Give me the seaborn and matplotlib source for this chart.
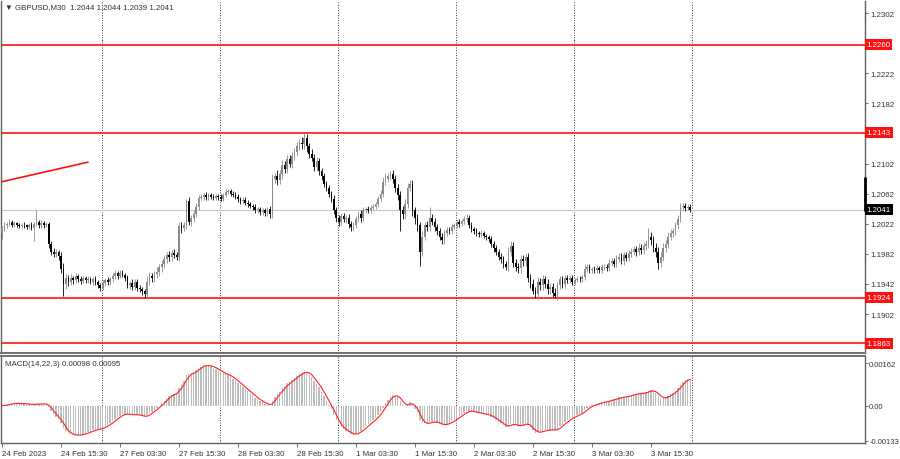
import numpy as np
import pandas as pd
import matplotlib
matplotlib.use("Agg")
import matplotlib.pyplot as plt
import matplotlib.transforms as mtrans
import seaborn as sns

# ---------------- data ----------------
symbol_title = "\u25BC GBPUSD,M30  1.2044 1.2044 1.2039 1.2041"
macd_title = "MACD(14,22,3) 0.00098 0.00095"
macd_params = (14, 22, 3)

first_open = 1.2010
closes = [
    1.2016, 1.2020, 1.2022, 1.2025, 1.2021, 1.2023, 1.2020, 1.2019, 1.2021, 1.2020,
    1.2018, 1.2020, 1.2017, 1.2022, 1.2024, 1.2020, 1.2023, 1.2021, 1.2022, 1.1995,
    1.1985, 1.1982, 1.1984, 1.1979, 1.1962, 1.1942, 1.1950, 1.1945, 1.1950, 1.1947,
    1.1952, 1.1948, 1.1946, 1.1950, 1.1947, 1.1948, 1.1945, 1.1948, 1.1944, 1.1940,
    1.1937, 1.1943, 1.1947, 1.1944, 1.1948, 1.1952, 1.1956, 1.1953, 1.1957, 1.1954,
    1.1950, 1.1940, 1.1943, 1.1938, 1.1945, 1.1937, 1.1935, 1.1932, 1.1928, 1.1945,
    1.1952, 1.1950, 1.1955, 1.1958, 1.1964, 1.1968, 1.1975, 1.1980, 1.1978, 1.1983,
    1.1980, 1.1978, 1.2019, 1.2016, 1.2020, 1.2052, 1.2025, 1.2030, 1.2035, 1.2045,
    1.2056, 1.2058, 1.2060, 1.2057, 1.2060, 1.2058, 1.2056, 1.2059, 1.2057, 1.2055,
    1.2060, 1.2064, 1.2065, 1.2062, 1.2060, 1.2058, 1.2055, 1.2052, 1.2054, 1.2050,
    1.2048, 1.2046, 1.2044, 1.2040, 1.2042, 1.2038, 1.2040, 1.2036, 1.2042, 1.2035,
    1.2082, 1.2085, 1.2080, 1.2088, 1.2100, 1.2095, 1.2108, 1.2102, 1.2112, 1.2118,
    1.2125, 1.2130, 1.2128, 1.2136, 1.2125, 1.2115, 1.2110, 1.2098, 1.2105, 1.2092,
    1.2085, 1.2075, 1.2070, 1.2062, 1.2055, 1.2040, 1.2030, 1.2025, 1.2032, 1.2028,
    1.2030, 1.2022, 1.2018, 1.2020, 1.2028, 1.2035, 1.2030, 1.2040, 1.2042, 1.2040,
    1.2043, 1.2045, 1.2048, 1.2055, 1.2062, 1.2078, 1.2082, 1.2085, 1.2088, 1.2082,
    1.2070, 1.2060, 1.2040, 1.2035, 1.2048, 1.2070, 1.2075, 1.2040, 1.2030, 1.2020,
    1.1985, 1.2005, 1.2020, 1.2018, 1.2030, 1.2025, 1.2018, 1.2012, 1.2005, 1.2000,
    1.2010, 1.2014, 1.2012, 1.2018, 1.2020, 1.2024, 1.2022, 1.2026, 1.2028, 1.2030,
    1.2020, 1.2015, 1.2013, 1.2010, 1.2008, 1.2010, 1.2006, 1.2004, 1.2002, 1.1995,
    1.1990, 1.1985, 1.1978, 1.1975, 1.1968, 1.1965, 1.1985, 1.1992, 1.1970, 1.1965,
    1.1963, 1.1975, 1.1972, 1.1978, 1.1950, 1.1942, 1.1932, 1.1928, 1.1945, 1.1940,
    1.1948, 1.1942, 1.1935, 1.1938, 1.1930, 1.1926, 1.1940, 1.1948, 1.1942, 1.1950,
    1.1947, 1.1950, 1.1945, 1.1947, 1.1949, 1.1948, 1.1951, 1.1962, 1.1965, 1.1960,
    1.1962, 1.1960, 1.1963, 1.1961, 1.1964, 1.1965, 1.1963, 1.1970, 1.1972, 1.1968,
    1.1975, 1.1978, 1.1972, 1.1980, 1.1976, 1.1982, 1.1985, 1.1988, 1.1984, 1.1990,
    1.1987, 1.1992, 1.1995, 1.2005, 1.2000, 1.1990, 1.1985, 1.1970, 1.1978, 1.1990,
    1.1995, 1.2005, 1.2010, 1.2012, 1.2020, 1.2028, 1.2045, 1.2046, 1.2043, 1.2045,
    1.2041,
]

# wick lengths above / below the candle body, in pips
upper_wick_pips = [
    3, 4, 3, 4, 2, 3, 2, 3, 2, 3,
    2, 3, 4, 3, 17, 3, 4, 3, 3, 3,
    4, 5, 4, 3, 6, 8, 5, 4, 5, 3,
    4, 3, 4, 3, 3, 4, 3, 3, 4, 3,
    3, 4, 3, 4, 3, 5, 4, 3, 4, 3,
    3, 4, 3, 5, 3, 3, 4, 3, 3, 8,
    6, 5, 4, 6, 5, 6, 4, 5, 6, 4,
    5, 4, 6, 5, 4, 3, 5, 4, 6, 5,
    4, 3, 3, 4, 3, 3, 4, 3, 3, 4,
    3, 4, 3, 3, 3, 4, 3, 3, 3, 3,
    3, 3, 3, 4, 3, 3, 3, 3, 3, 4,
    6, 5, 8, 6, 7, 6, 6, 5, 6, 5,
    6, 5, 7, 7, 6, 5, 6, 5, 6, 5,
    4, 4, 4, 4, 4, 5, 4, 4, 4, 4,
    4, 5, 4, 4, 4, 4, 5, 4, 3, 4,
    4, 4, 3, 4, 5, 6, 7, 5, 4, 6,
    5, 5, 5, 6, 7, 6, 5, 5, 5, 5,
    5, 8, 5, 6, 14, 5, 5, 4, 5, 5,
    4, 4, 4, 4, 3, 4, 4, 3, 4, 5,
    4, 4, 3, 3, 3, 4, 3, 3, 3, 4,
    4, 4, 4, 5, 4, 5, 6, 7, 6, 5,
    5, 6, 5, 5, 5, 5, 6, 6, 6, 5,
    6, 5, 6, 5, 5, 6, 5, 5, 4, 4,
    4, 3, 4, 3, 3, 3, 3, 6, 4, 4,
    3, 4, 4, 3, 4, 4, 4, 5, 5, 5,
    5, 5, 5, 5, 5, 5, 5, 5, 5, 6,
    5, 6, 6, 12, 6, 6, 6, 6, 6, 6,
    6, 6, 5, 5, 5, 6, 5, 4, 4, 3,
    3,
]
lower_wick_pips = [
    8, 4, 3, 3, 3, 3, 2, 3, 3, 3,
    3, 3, 3, 18, 3, 3, 3, 4, 3, 5,
    5, 4, 4, 5, 6, 16, 7, 6, 5, 5,
    4, 4, 4, 3, 4, 4, 3, 4, 3, 4,
    4, 3, 4, 3, 4, 3, 3, 4, 3, 3,
    4, 4, 5, 4, 4, 5, 4, 5, 4, 6,
    5, 5, 6, 5, 5, 6, 5, 5, 5, 5,
    4, 4, 5, 6, 4, 5, 5, 6, 5, 4,
    4, 3, 4, 3, 3, 3, 3, 3, 3, 3,
    3, 3, 3, 3, 3, 3, 4, 3, 3, 3,
    3, 3, 3, 4, 3, 4, 4, 4, 3, 5,
    5, 6, 6, 5, 7, 6, 5, 5, 6, 5,
    6, 5, 6, 6, 7, 6, 5, 6, 6, 5,
    5, 4, 4, 5, 4, 5, 5, 6, 5, 4,
    5, 5, 6, 5, 4, 4, 5, 4, 4, 4,
    4, 3, 3, 4, 4, 5, 5, 5, 5, 6,
    6, 6, 28, 6, 6, 5, 5, 7, 8, 7,
    19, 6, 5, 6, 5, 5, 5, 5, 5, 5,
    5, 4, 4, 4, 3, 4, 4, 3, 4, 3,
    4, 4, 4, 4, 3, 4, 3, 4, 4, 4,
    5, 5, 4, 5, 5, 5, 6, 6, 6, 6,
    6, 6, 6, 6, 6, 5, 4, 4, 6, 6,
    6, 6, 6, 6, 5, 3, 5, 5, 5, 5,
    4, 4, 4, 4, 3, 4, 4, 4, 4, 4,
    4, 4, 4, 4, 4, 4, 4, 4, 4, 4,
    4, 4, 4, 5, 4, 4, 4, 4, 5, 4,
    5, 5, 5, 5, 6, 6, 7, 8, 6, 6,
    6, 5, 5, 5, 5, 5, 4, 4, 4, 3,
    3,
]

level_lines = [1.2260, 1.2143, 1.1924, 1.1863]
trend_bars = [0, 35]
trend_prices = [1.2078, 1.2104]
bid_price = 1.2041
last_bar_range = [1.2039, 1.2084]

price_ticks = [1.2302, 1.2222, 1.2182, 1.2102, 1.2062, 1.2022, 1.1982, 1.1942, 1.1902]
macd_ticks = [0.00162, 0.0, -0.00133]
macd_tick_labels = ["0.00162", "0.00", "-0.00133"]
time_tick_bars = [0, 24, 48, 72, 96, 120, 144, 168, 192, 216, 240, 264]
time_tick_labels = ["24 Feb 2023", "24 Feb 15:30", "27 Feb 03:30", "27 Feb 15:30",
                    "28 Feb 03:30", "28 Feb 15:30", "1 Mar 03:30", "1 Mar 15:30",
                    "2 Mar 03:30", "2 Mar 15:30", "3 Mar 03:30", "3 Mar 15:30"]
grid_bars = [40.7, 88.7, 136.7, 184.7, 232.7, 280.7]

# ---------------- derived series ----------------
n = len(closes)
idx = np.arange(n)
c = np.array(closes)
o = np.concatenate([[first_open], c[:-1]])
hi = np.maximum(o, c) + np.array(upper_wick_pips) * 1e-4
lo = np.minimum(o, c) - np.array(lower_wick_pips) * 1e-4

cs = pd.Series(c)
fast, slow, sig = macd_params
macd = (cs.ewm(span=fast, adjust=False).mean() - cs.ewm(span=slow, adjust=False).mean()).values
signal = pd.Series(macd).rolling(sig, min_periods=1).mean().values
df_macd = pd.DataFrame({"bar": idx, "macd": macd, "signal": signal})

# ---------------- styling ----------------
sns.set_theme(style="white")
plt.rcParams["font.family"] = ["Liberation Sans", "DejaVu Sans"]
FS = 5.7
TXT = "#333333"

W, H = 900, 460
fig = plt.figure(figsize=(W / 100, H / 100), dpi=100)
fig.patch.set_facecolor("white")
ax = fig.add_axes([1 / W, 1 - 354 / H, 864 / W, 352 / H])
ax2 = fig.add_axes([1 / W, 1 - 444 / H, 864 / W, 87 / H], sharex=ax)

xmin, xmax = -0.4, 351.1
ax.set_xlim(xmin, xmax)
ax.set_ylim(1.18502, 1.23183)
ax2.set_ylim(-0.001425, 0.0019)

# grid
for g in grid_bars:
    for a in (ax, ax2):
        a.axvline(g, color="#222222", lw=0.6, ls=(0, (1.2, 1.8)), zorder=1)

# horizontal levels
ax.axhline(bid_price, color="#c8c8c8", lw=0.8, zorder=1)
for lv in level_lines:
    ax.axhline(lv, color="#ff1010", lw=1.2, zorder=2)
sns.lineplot(x=trend_bars, y=trend_prices, color="#ff1010", lw=1.2, ax=ax, zorder=2)

# candles
bull = c >= o
bull_col, bear_col = "#8a8a8a", "#000000"
cols = np.where(bull, bull_col, bear_col)
ax.vlines(idx, lo, hi, colors=cols, lw=0.6, zorder=3)
body_h = np.abs(c - o)
body_h = np.where(body_h < 0.00008, 0.00008, body_h)
ax.bar(idx, body_h, bottom=np.minimum(o, c), width=0.68, color=cols, linewidth=0, zorder=4)

# MACD panel
sns.barplot(data=df_macd, x="bar", y="macd", native_scale=True, color="#bdbdbd",
            saturation=1, width=0.55, linewidth=0, errorbar=None, ax=ax2, zorder=2)
sns.lineplot(data=df_macd, x="bar", y="signal", color="#ff2020", lw=0.8, ax=ax2, zorder=3)
ax2.set_xlim(xmin, xmax)

# spines
for a in (ax, ax2):
    for s in a.spines.values():
        s.set_color("#606060")
        s.set_linewidth(1.0)
ax.spines["top"].set_visible(False)
ax.spines["bottom"].set_linewidth(1.4)
ax.spines["bottom"].set_color("#707070")
ax2.spines["top"].set_linewidth(1.4)
ax2.spines["top"].set_color("#707070")

# price axis
ax.yaxis.tick_right()
ax.set_yticks(price_ticks)
ax.set_yticklabels([f"{t:.4f}" for t in price_ticks])
ax.tick_params(axis="y", right=True, length=2.5, width=0.6, color="#555555", pad=1.5,
               labelsize=FS, labelcolor=TXT)
ax.tick_params(axis="x", bottom=False, labelbottom=False)
ax.set_xlabel("")
ax.set_ylabel("")

tr = mtrans.blended_transform_factory(ax.transAxes, ax.transData)
for lv in level_lines:
    ax.text(1.0 + 1.5 / 864, lv, f"{lv:.4f}", transform=tr, ha="left", va="center",
            fontsize=FS, color="white", clip_on=False, zorder=10,
            bbox=dict(boxstyle="square,pad=0.25", facecolor="#ff1010", edgecolor="none"))
ax.text(1.0 + 1.5 / 864, bid_price, f"{bid_price:.4f}", transform=tr, ha="left", va="center",
        fontsize=FS, color="white", clip_on=False, zorder=10,
        bbox=dict(boxstyle="square,pad=0.25", facecolor="#000000", edgecolor="none"))
ax.plot([1.0, 1.0], last_bar_range, transform=tr, color="black", lw=2.0,
        clip_on=False, zorder=9, solid_capstyle="butt")

ax.text(4 / 864, 1 - 6 / 352, symbol_title, transform=ax.transAxes, ha="left", va="center",
        fontsize=FS, color=TXT)

# MACD axis
ax2.yaxis.tick_right()
ax2.set_yticks(macd_ticks)
ax2.set_yticklabels(macd_tick_labels)
ax2.tick_params(axis="y", right=True, length=2, width=0.6, color="#555555", pad=1,
                labelsize=FS - 0.2, labelcolor=TXT)
ax2.set_xticks(time_tick_bars)
ax2.set_xticklabels(time_tick_labels, ha="left")
ax2.tick_params(axis="x", bottom=True, length=3, width=0.6, color="#555555", pad=2,
                labelsize=FS, labelcolor=TXT)
for lab in ax2.get_xticklabels():
    lab.set_horizontalalignment("left")
ax2.set_xlabel("")
ax2.set_ylabel("")
ax2.text(4 / 864, 1 - 8 / 87, macd_title, transform=ax2.transAxes, ha="left", va="center",
         fontsize=FS, color=TXT)

fig.savefig("out.png", dpi=100, facecolor="white")
